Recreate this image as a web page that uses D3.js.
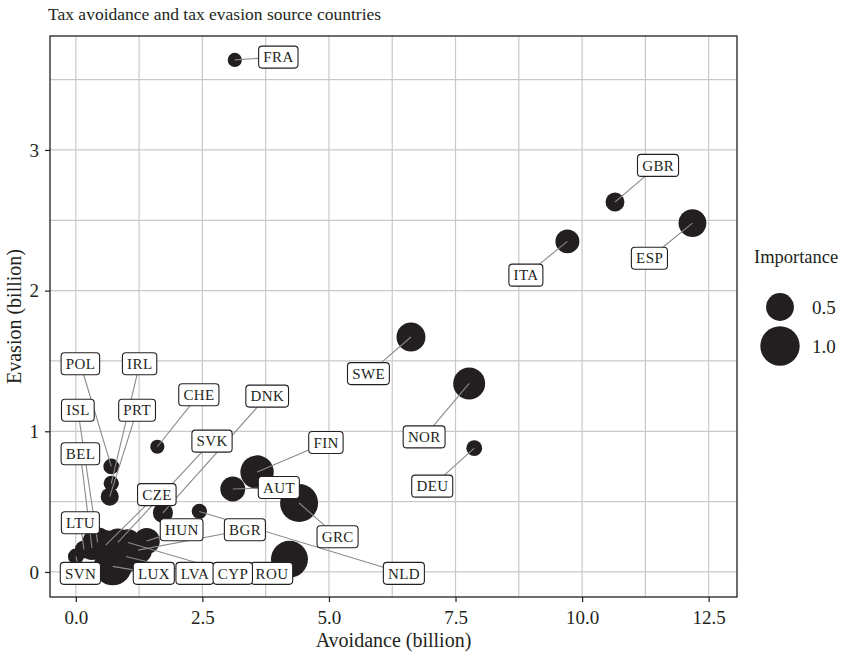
<!DOCTYPE html>
<html><head><meta charset="utf-8">
<script src="https://cdn.jsdelivr.net/npm/d3@7"></script>
<style>
html,body{margin:0;padding:0;background:#fff;}
svg{display:block;font-family:"Liberation Serif","DejaVu Serif",serif;}
</style></head>
<body>
<svg id="chart" width="857" height="661"></svg>
<script>
// ---- data ----
const countries = ["FRA","GBR","ESP","ITA","SWE","NOR","DEU","FIN","AUT","GRC","ROU","NLD","CHE","DNK","POL","IRL","PRT","SVN","LTU","BEL","ISL","CZE","SVK","LUX","LVA","CYP","HUN","BGR"];
const avoidance = [3.14,10.65,12.18,9.71,6.62,7.77,7.87,3.58,3.10,4.41,4.22,2.44,1.61,1.72,0.70,0.70,0.67,0.00,0.16,0.32,0.43,0.59,0.83,0.73,0.99,1.03,1.40,1.23];
const evasion   = [3.64,2.63,2.48,2.35,1.67,1.34,0.88,0.71,0.59,0.49,0.09,0.43,0.89,0.42,0.75,0.63,0.535,0.11,0.16,0.17,0.21,0.19,0.21,0.04,0.11,0.21,0.22,0.155];
const importance= [0.13,0.23,0.50,0.37,0.54,0.66,0.16,0.72,0.40,0.93,0.88,0.15,0.13,0.26,0.16,0.15,0.21,0.16,0.21,0.37,0.58,0.58,0.50,0.93,0.66,0.44,0.44,0.50];
// repelled label anchor positions (data units)
const labelX = [4.0,11.5,11.33,8.89,5.78,6.88,7.04,4.94,4.01,5.17,3.87,6.48,2.43,3.78,0.09,1.26,1.21,0.09,0.09,0.09,0.04,1.60,2.69,1.54,2.35,3.10,2.09,3.34];
const labelY = [3.66,2.89,2.23,2.11,1.41,0.96,0.61,0.92,0.60,0.25,-0.01,-0.01,1.26,1.25,1.48,1.48,1.15,-0.01,0.35,0.84,1.15,0.55,0.93,-0.01,-0.01,-0.01,0.30,0.30];
const xTicks = [0,2.5,5,7.5,10,12.5];
const xTickLabels = ["0.0","2.5","5.0","7.5","10.0","12.5"];
const xMinor = [1.25,3.75,6.25,8.75,11.25];
const yTicks = [0,1,2,3];
const yTickLabels = ["0","1","2","3"];
const yMinor = [0.5,1.5,2.5,3.5];
const legendBreaks = [0.5,1.0];
const legendLabels = ["0.5","1.0"];

// ---- layout ----
const panel = {l:50, r:737, t:36, b:597};
const svg = d3.select("#chart");
const x = d3.scaleLinear().domain([-0.51,13.06]).range([panel.l,panel.r]);
const y = d3.scaleLinear().domain([-0.178,3.81]).range([panel.b,panel.t]);
const size = d3.scaleSqrt().domain([0,1]).range([0,19.7]);
const ink = "#231f20";
const gridCol = "#c9c9c9";

// grid
const g = svg.append("g");
g.selectAll(".vx").data(xMinor.concat(xTicks)).join("line")
  .attr("x1",d=>x(d)).attr("x2",d=>x(d)).attr("y1",panel.t).attr("y2",panel.b)
  .attr("stroke",gridCol).attr("stroke-width",1.2);
g.selectAll(".hy").data(yMinor.concat(yTicks)).join("line")
  .attr("y1",d=>y(d)).attr("y2",d=>y(d)).attr("x1",panel.l).attr("x2",panel.r)
  .attr("stroke",gridCol).attr("stroke-width",1.2);

// points
const data = countries.map((c,i)=>({c, ax:avoidance[i], ev:evasion[i], imp:importance[i], lx:labelX[i], ly:labelY[i]}));
svg.append("g").selectAll("circle").data(data).join("circle")
  .attr("cx",d=>x(d.ax)).attr("cy",d=>y(d.ev)).attr("r",d=>size(d.imp))
  .attr("fill",ink);

// labels + segments
const lg = svg.append("g");
const fs = 15, ls = 0.4;
data.forEach(d=>{
  const t = lg.append("text").text(d.c).attr("font-size",fs).attr("letter-spacing",ls)
    .attr("text-anchor","middle").attr("fill",ink);
  const w = t.node().getComputedTextLength()+9, h = 22;
  const cx = x(d.lx), cy = y(d.ly);
  t.remove();
  const px = x(d.ax), py = y(d.ev);
  const dx = px-cx, dy = py-cy;
  let s = Infinity;
  if (dx!==0) s = Math.min(s, (w/2)/Math.abs(dx));
  if (dy!==0) s = Math.min(s, (h/2)/Math.abs(dy));
  if (s < 1) {
    const ex = cx+dx*s, ey = cy+dy*s;
    const len = Math.hypot(px-ex, py-ey);
    if (len > 6) {
      lg.append("line").attr("x1",px).attr("y1",py).attr("x2",ex).attr("y2",ey)
        .attr("stroke","#8a8a8a").attr("stroke-width",1.1);
    }
  }
  d.box = {cx,cy,w,h};
});
data.forEach(d=>{
  const b = d.box;
  lg.append("rect").attr("x",b.cx-b.w/2).attr("y",b.cy-b.h/2).attr("width",b.w).attr("height",b.h)
    .attr("rx",3.5).attr("fill","#fff").attr("stroke",ink).attr("stroke-width",1.1);
  lg.append("text").text(d.c).attr("x",b.cx+ls/2).attr("y",b.cy+5.2).attr("font-size",fs)
    .attr("letter-spacing",ls).attr("text-anchor","middle").attr("fill",ink);
});

// panel border
svg.append("rect").attr("x",panel.l).attr("y",panel.t).attr("width",panel.r-panel.l).attr("height",panel.b-panel.t)
  .attr("fill","none").attr("stroke",ink).attr("stroke-width",1.3);

// axes
const xAxis = d3.axisBottom(x).tickValues(xTicks).tickFormat((d,i)=>xTickLabels[i]).tickSize(5).tickPadding(9);
const xa = svg.append("g").attr("transform",`translate(0,${panel.b})`).call(xAxis);
const yAxis = d3.axisLeft(y).tickValues(yTicks).tickFormat((d,i)=>yTickLabels[i]).tickSize(5).tickPadding(6);
const ya = svg.append("g").attr("transform",`translate(${panel.l},0)`).call(yAxis);
[xa,ya].forEach(a=>{
  a.select(".domain").remove();
  a.selectAll(".tick line").attr("stroke",ink).attr("stroke-width",1.2);
  a.selectAll(".tick text").attr("fill",ink).attr("font-size",19)
   .attr("font-family","Liberation Serif, serif");
});

// titles
svg.append("text").text("Tax avoidance and tax evasion source countries")
  .attr("x",panel.l-2).attr("y",20).attr("font-size",17.5).attr("fill",ink);
svg.append("text").text("Avoidance (billion)")
  .attr("x",(panel.l+panel.r)/2).attr("y",647).attr("text-anchor","middle").attr("font-size",20).attr("fill",ink);
svg.append("text").text("Evasion (billion)")
  .attr("transform",`translate(21,${(panel.t+panel.b)/2}) rotate(-90)`).attr("text-anchor","middle")
  .attr("font-size",20).attr("fill",ink);

// legend
const leg = svg.append("g");
leg.append("text").text("Importance").attr("x",754).attr("y",263).attr("font-size",18.5).attr("fill",ink);
legendBreaks.forEach((v,i)=>{
  const cy = 307 + i*39;
  leg.append("circle").attr("cx",780).attr("cy",cy).attr("r",size(v)).attr("fill",ink);
  leg.append("text").text(legendLabels[i]).attr("x",812).attr("y",cy+6.5).attr("font-size",19).attr("fill",ink);
});
</script>
</body></html>
